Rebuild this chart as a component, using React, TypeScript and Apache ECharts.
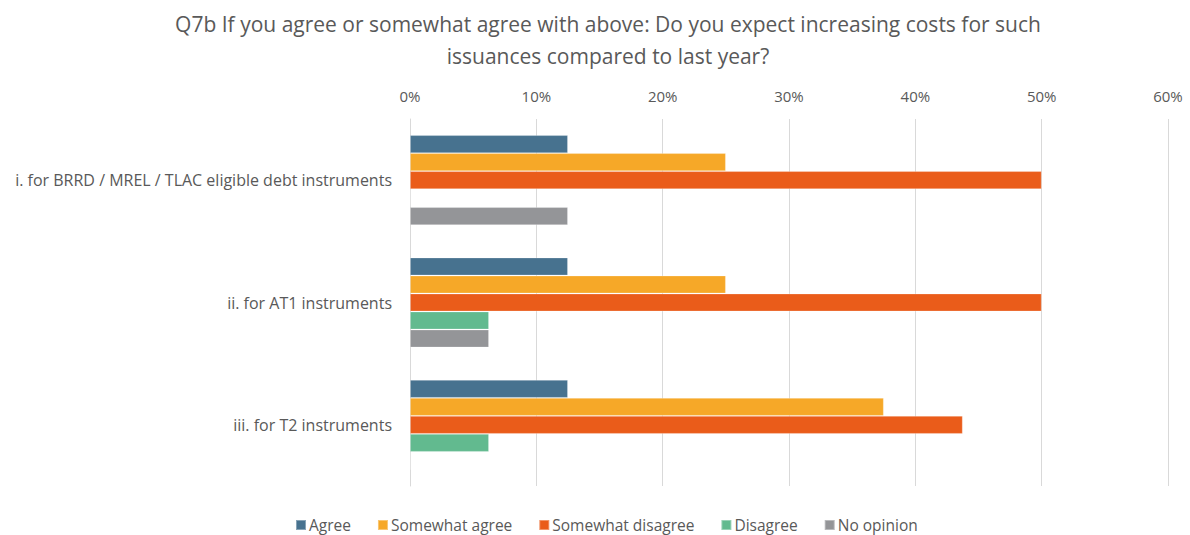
import React, { useEffect, useRef } from "react";
import * as echarts from "echarts";

const categories = [
  "i. for BRRD / MREL / TLAC eligible debt instruments",
  "ii. for AT1 instruments",
  "iii. for T2 instruments",
];
const seriesNames = ["Agree", "Somewhat agree", "Somewhat disagree", "Disagree", "No opinion"];
const agree = [0.125, 0.125, 0.125];
const somewhatAgree = [0.25, 0.25, 0.375];
const somewhatDisagree = [0.5, 0.5, 0.4375];
const disagree = [0, 0.0625, 0.0625];
const noOpinion = [0.125, 0.0625, 0];
const colors = ["#47728F", "#F6A828", "#EA5C1A", "#62BA8F", "#949598"];
const xTicks = [0, 0.1, 0.2, 0.3, 0.4, 0.5, 0.6];

export default function App() {
  const ref = useRef<HTMLDivElement>(null);
  useEffect(() => {
    const chart = echarts.init(ref.current!, null, { renderer: "svg" });
    const font = "'Open Sans', sans-serif";
    const data = [agree, somewhatAgree, somewhatDisagree, disagree, noOpinion];
    chart.setOption({
      animation: false,
      textStyle: { fontFamily: font },
      title: {
        text: "Q7b If you agree or somewhat agree with above: Do you expect increasing costs for such\nissuances compared to last year?",
        left: 603,
        top: 3,
        textAlign: "center",
        textStyle: { fontSize: 21, fontWeight: "normal", color: "#595959", lineHeight: 32, fontFamily: font },
      },
      legend: {
        bottom: -3,
        left: 290,
        itemWidth: 10,
        itemHeight: 10,
        itemGap: 26,
        icon: "rect",
        textStyle: { fontSize: 15.5, color: "#595959", fontFamily: font, padding: [0, 0, 0, -2] },
        data: seriesNames,
      },
      grid: { left: 410, right: 22, top: 119, bottom: 49, containLabel: false },
      xAxis: {
        type: "value",
        position: "top",
        min: 0,
        max: xTicks[xTicks.length - 1],
        interval: 0.1,
        axisLine: { show: false },
        axisTick: { show: false },
        splitLine: { lineStyle: { color: "#d9d9d9", width: 1 } },
        axisLabel: {
          fontSize: 15,
          color: "#595959",
          margin: 16,
          formatter: (v: number) => Math.round(v * 100) + "%",
        },
      },
      yAxis: {
        type: "category",
        inverse: true,
        data: categories,
        axisLine: { show: true, lineStyle: { color: "#d9d9d9" } },
        axisTick: { show: false },
        axisLabel: { fontSize: 16, color: "#595959", margin: 18 },
      },
      series: seriesNames.map((name, i) => ({
        name,
        type: "bar",
        data: data[i],
        barWidth: 18,
        barGap: "0%",
        itemStyle: { color: colors[i], borderColor: "rgba(255,255,255,0.35)", borderWidth: 0.8 },
      })),
    });
    return () => chart.dispose();
  }, []);
  return (
    <div
      ref={ref}
      style={{ position: "absolute", left: 0, top: 0, width: 1190, height: 535 }}
    />
  );
}
